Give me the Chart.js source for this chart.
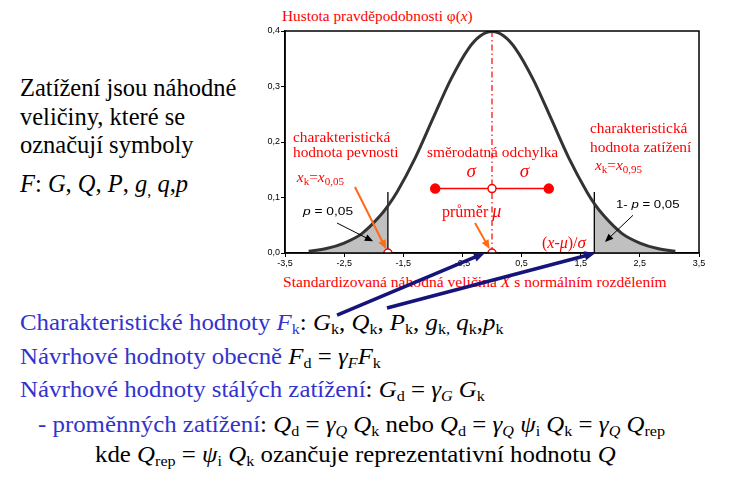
<!DOCTYPE html>
<html>
<head>
<meta charset="utf-8">
<script src="https://cdn.jsdelivr.net/npm/chart.js@4/dist/chart.umd.min.js"></script>
<style>
  body{margin:0;width:752px;height:488px;position:relative;background:#fff;overflow:hidden;font-family:"Liberation Serif","Times New Roman",serif}
  .ln{position:absolute;white-space:nowrap;line-height:1;color:#000}
  .wide{transform:scaleX(1.08);transform-origin:0 0}
  .b{color:#3333cc}
  .r{color:#ff0000}
  sub{font-size:0.65em;vertical-align:baseline;position:relative;top:0.3em}
  canvas{position:absolute;left:0;top:0;z-index:2}
</style>
</head>
<body>
<div class="ln r" style="left:282px;top:8.2px;font-size:15.3px">Hustota pravděpodobnosti φ(<i>x</i>)</div>
<div class="ln r" style="left:283px;top:274px;font-size:15.6px">Standardizovaná náhodná veličina <i>X</i> s normálním rozdělením</div>

<div class="ln" style="left:20px;top:75.5px;font-size:24.5px">Zatížení jsou náhodné</div>
<div class="ln" style="left:20px;top:104.5px;font-size:24.5px">veličiny, které se</div>
<div class="ln" style="left:20px;top:132.5px;font-size:24.5px">označují symboly</div>
<div class="ln" style="left:20px;top:171.5px;font-size:24.5px"><i>F</i>: <i>G</i>, <i>Q</i>, <i>P</i>, <i>g</i><sub>,</sub> <i>q</i>,<i>p</i></div>

<div class="ln wide" style="left:20px;top:310.7px;font-size:23px"><span class="b">Charakteristické hodnoty <i>F</i><sub>k</sub></span>: <i>G</i><sub>k</sub>, <i>Q</i><sub>k</sub>, <i>P</i><sub>k</sub>, <i>g</i><sub>k,</sub> <i>q</i><sub>k</sub>,<i>p</i><sub>k</sub></div>
<div class="ln wide" style="left:20px;top:344.7px;font-size:23px"><span class="b">Návrhové hodnoty obecně</span> <i>F</i><sub>d</sub> = <i>γ<sub>F</sub></i><i>F</i><sub>k</sub></div>
<div class="ln wide" style="left:20px;top:377.7px;font-size:23px"><span class="b">Návrhové hodnoty stálých zatížení</span>: <i>G</i><sub>d</sub> = <i>γ<sub>G</sub></i> <i>G</i><sub>k</sub></div>
<div class="ln wide" style="left:38px;top:412.7px;font-size:23px"><span class="b">- proměnných zatížení</span>: <i>Q</i><sub>d</sub> = <i>γ<sub>Q</sub></i> <i>Q</i><sub>k</sub> nebo <i>Q</i><sub>d</sub> = <i>γ<sub>Q</sub></i> <i>ψ</i><sub>i</sub> <i>Q</i><sub>k</sub> = <i>γ<sub>Q</sub></i> <i>Q</i><sub>rep</sub></div>
<div class="ln wide" style="left:95px;top:442.7px;font-size:23px">kde <i>Q</i><sub>rep</sub> = <i>ψ</i><sub>i</sub> <i>Q</i><sub>k</sub> ozančuje reprezentativní hodnotu <i>Q</i></div>

<canvas id="c" width="752" height="488"></canvas>
<script>
// tick labels
const xTicks = [-3.5, -2.5, -1.5, -0.5, 0.5, 1.5, 2.5, 3.5];
const yTicks = [0, 0.1, 0.2, 0.3, 0.4];

// density curve
const curveX = [-3.1, -2.8, -2.5, -2.2, -1.9, -1.76, -1.6, -1.3, -1.0, -0.7, -0.4, -0.2, 0, 0.2, 0.4, 0.7, 1.0, 1.3, 1.6, 1.73, 1.9, 2.2, 2.5, 2.8, 3.1];
const curveY = [0.003, 0.008, 0.018, 0.035, 0.066, 0.085, 0.111, 0.171, 0.242, 0.312, 0.368, 0.391, 0.399, 0.391, 0.368, 0.312, 0.242, 0.171, 0.111, 0.089, 0.066, 0.035, 0.018, 0.008, 0.003];

// shaded tails
const leftTailX = [-3.1, -2.8, -2.5, -2.2, -1.9, -1.76];
const leftTailY = [0.003, 0.008, 0.018, 0.035, 0.066, 0.085];
const rightTailX = [1.73, 1.9, 2.2, 2.5, 2.8, 3.1];
const rightTailY = [0.089, 0.066, 0.035, 0.018, 0.008, 0.003];

// quantiles, mean, sigma marks
const quantiles = [-1.76, 1.73];
const quantileTop = 0.11;
const mean = 0;
const peak = 0.4;
const sigmaX = [-0.96, 0, 0.96];
const sigmaY = 0.116;

const SERIF = '"Liberation Serif","Times New Roman",serif';
const SANS = '"Liberation Sans",Arial,sans-serif';
const RED = '#ff0000', ORANGE = '#ff6a13', NAVY = '#14147a';

const pts = (xs, ys) => xs.map((x, i) => ({x: x, y: ys[i]}));
const fmt = v => Number(v).toFixed(1).replace('.', ',');

function textRuns(ctx, x, y, parts, color, sx) {
  ctx.save();
  ctx.translate(x, y);
  ctx.scale(sx || 1, 1);
  ctx.fillStyle = color;
  ctx.textBaseline = 'alphabetic';
  let cx = 0;
  parts.forEach(p => {
    ctx.font = p[1];
    ctx.fillText(p[0], cx, p[2] || 0);
    cx += ctx.measureText(p[0]).width;
  });
  ctx.restore();
}

function arrow(ctx, x1, y1, x2, y2, color, w, head) {
  const a = Math.atan2(y2 - y1, x2 - x1);
  const bx = x2 - Math.cos(a) * head * 0.8, by = y2 - Math.sin(a) * head * 0.8;
  ctx.save();
  ctx.strokeStyle = color; ctx.fillStyle = color; ctx.lineWidth = w;
  ctx.beginPath(); ctx.moveTo(x1, y1); ctx.lineTo(bx, by); ctx.stroke();
  ctx.beginPath();
  ctx.moveTo(x2, y2);
  ctx.lineTo(x2 - head * Math.cos(a - 0.4), y2 - head * Math.sin(a - 0.4));
  ctx.lineTo(x2 - head * Math.cos(a + 0.4), y2 - head * Math.sin(a + 0.4));
  ctx.closePath(); ctx.fill();
  ctx.restore();
}

// ---------------- annotations ----------------
const notes = {
  id: 'notes',
  afterDraw(chart) {
    const ctx = chart.ctx, a = chart.chartArea;
    const X = v => chart.scales.x.getPixelForValue(v);
    const Y = v => chart.scales.y.getPixelForValue(v);

    // frame
    ctx.save();
    ctx.strokeStyle = '#000'; ctx.lineWidth = 1.5;
    ctx.strokeRect(a.left, a.top, a.right - a.left, a.bottom - a.top);
    ctx.restore();

    const f15 = '15.4px ' + SERIF, i15 = 'italic 15.4px ' + SERIF, s11 = '11px ' + SERIF;
    textRuns(ctx, X(-3.365), Y(0.200), [['charakteristická', f15]], RED);
    textRuns(ctx, X(-3.365), Y(0.173), [['hodnota pevnosti', f15]], RED);
    textRuns(ctx, X(-3.30), Y(0.128), [['x', i15], ['k', s11, 3], ['=', f15], ['x', i15], ['0,05', s11, 3]], RED);
    textRuns(ctx, X(1.657), Y(0.216), [['charakteristická', f15]], RED);
    textRuns(ctx, X(1.657), Y(0.182), [['hodnota zatížení', f15]], RED);
    textRuns(ctx, X(1.742), Y(0.150), [['x', i15], ['k', s11, 3], ['=', f15], ['x', i15], ['0,95', s11, 3]], RED);
    textRuns(ctx, X(-1.099), Y(0.173), [['směrodatná odchylka', f15]], RED);
    textRuns(ctx, X(-0.43), Y(0.137), [['σ', 'italic 19px ' + SERIF]], RED);
    textRuns(ctx, X(0.47), Y(0.137), [['σ', 'italic 19px ' + SERIF]], RED);
    textRuns(ctx, X(-0.845), Y(0.065), [['průměr ', '16px ' + SERIF], ['μ', 'italic 18px ' + SERIF]], RED);
    textRuns(ctx, X(0.845), Y(0.009), [['(', '16px ' + SERIF], ['x', 'italic 16px ' + SERIF], ['-', '16px ' + SERIF], ['μ', 'italic 16px ' + SERIF], [')/', '16px ' + SERIF], ['σ', 'italic 17px ' + SERIF]], RED);

    textRuns(ctx, X(-3.196), Y(0.068), [['p', 'italic 11px ' + SANS], [' = 0,05', '11px ' + SANS]], '#000', 1.25);
    textRuns(ctx, X(2.097), Y(0.081), [['1- ', '11px ' + SANS], ['p', 'italic 11px ' + SANS], [' = 0,05', '11px ' + SANS]], '#000', 1.2);

    arrow(ctx, X(-2.62), Y(0.054), X(-2.01), Y(0.021), '#000', 1, 9);
    arrow(ctx, X(2.384), Y(0.068), X(1.91), Y(0.020), '#000', 1, 9);
    arrow(ctx, X(-2.317), Y(0.119), X(-1.79), Y(0.007), ORANGE, 2, 10);
    arrow(ctx, X(-0.287), Y(0.054), X(-0.04), Y(0.007), ORANGE, 2, 10);
    arrow(ctx, X(-2.62), Y(-0.112), X(-0.12), Y(0), NAVY, 3.5, 12);
    arrow(ctx, X(-1.775), Y(-0.099), X(1.75), Y(0), NAVY, 3.5, 12);
  }
};

const datasets = [
  {data: [{x: quantiles[0], y: 0}, {x: mean, y: 0}, {x: mean, y: sigmaY}], showLine: false,
   pointRadius: 4, pointBorderWidth: 1.5, pointBackgroundColor: '#fff', pointBorderColor: RED, order: 0},
  {data: pts(sigmaX, sigmaX.map(() => sigmaY)), showLine: true, borderColor: RED, borderWidth: 1.5,
   pointRadius: [4.5, 0, 4.5], pointBackgroundColor: RED, pointBorderColor: RED, order: 1},
  {data: pts(curveX, curveY), showLine: true, borderColor: '#333', borderWidth: 3,
   cubicInterpolationMode: 'monotone', pointRadius: 0, order: 2},
  {data: [{x: mean, y: 0}, {x: mean, y: peak}], showLine: true, borderColor: RED, borderWidth: 1.2,
   borderDash: [6, 3, 1.5, 3], pointRadius: 0, order: 3},
  ...quantiles.map(q => ({data: [{x: q, y: 0}, {x: q, y: quantileTop}], showLine: true,
   borderColor: '#000', borderWidth: 1.3, pointRadius: 0, order: 4})),
  {data: pts(leftTailX, leftTailY), showLine: true, fill: 'origin', backgroundColor: '#c0c0c0',
   borderWidth: 0, cubicInterpolationMode: 'monotone', pointRadius: 0, order: 5},
  {data: pts(rightTailX, rightTailY), showLine: true, fill: 'origin', backgroundColor: '#c0c0c0',
   borderWidth: 0, cubicInterpolationMode: 'monotone', pointRadius: 0, order: 5}
];

new Chart(document.getElementById('c'), {
  type: 'scatter',
  data: {datasets: datasets},
  options: {
    responsive: false,
    animation: false,
    events: [],
    layout: {padding: {left: 255, top: 31, right: 53, bottom: 215}},
    plugins: {legend: {display: false}, tooltip: {enabled: false}},
    scales: {
      x: {
        type: 'linear', min: -3.5, max: 3.5,
        afterBuildTicks: s => { s.ticks = xTicks.map(v => ({value: v})); },
        afterFit: s => { s.height = 20; },
        ticks: {callback: fmt, font: {family: SANS, size: 9}, color: '#000', maxRotation: 0, autoSkip: false, padding: 1},
        grid: {drawOnChartArea: false, tickLength: 4, color: '#000'},
        border: {color: '#000', width: 1.5}
      },
      y: {
        min: 0, max: 0.4,
        afterBuildTicks: s => { s.ticks = yTicks.map(v => ({value: v})); },
        afterFit: s => { s.width = 30; },
        ticks: {callback: fmt, font: {family: SANS, size: 9}, color: '#000', padding: 1},
        grid: {drawOnChartArea: false, tickLength: 4, color: '#000'},
        border: {color: '#000', width: 1.5}
      }
    }
  },
  plugins: [notes]
});
</script>
</body>
</html>
